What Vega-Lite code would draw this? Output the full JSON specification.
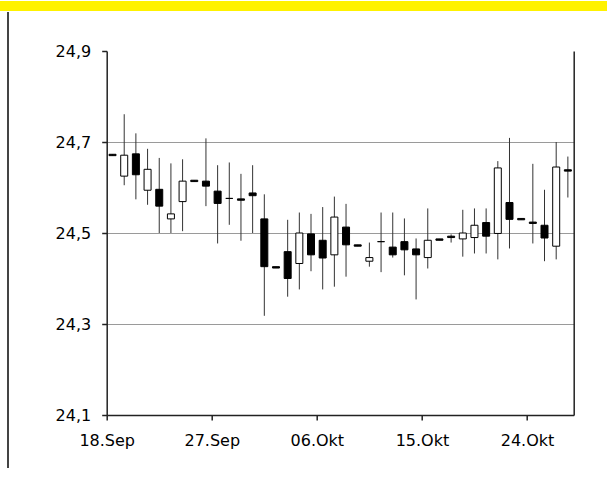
{
  "$schema": "https://vega.github.io/schema/vega-lite/v6.json",
  "padding": 0,
  "background": "white",
  "bounds": "flush",
  "spacing": 1,
  "config": {"view": {"stroke": null}, "font": "DejaVu Sans"},
  "datasets": {
    "ohlc": [
      {"date": "2000-09-18T12:00:00", "open": 24.673, "close": 24.670, "high": 24.673, "low": 24.670},
      {"date": "2000-09-19T12:00:00", "open": 24.625, "close": 24.671, "high": 24.761, "low": 24.605},
      {"date": "2000-09-20T12:00:00", "open": 24.674, "close": 24.628, "high": 24.719, "low": 24.574},
      {"date": "2000-09-21T12:00:00", "open": 24.594, "close": 24.640, "high": 24.685, "low": 24.562},
      {"date": "2000-09-22T12:00:00", "open": 24.596, "close": 24.559, "high": 24.665, "low": 24.500},
      {"date": "2000-09-23T12:00:00", "open": 24.531, "close": 24.542, "high": 24.653, "low": 24.500},
      {"date": "2000-09-24T12:00:00", "open": 24.569, "close": 24.614, "high": 24.662, "low": 24.504},
      {"date": "2000-09-25T12:00:00", "open": 24.616, "close": 24.613, "high": 24.616, "low": 24.613},
      {"date": "2000-09-26T12:00:00", "open": 24.614, "close": 24.603, "high": 24.708, "low": 24.559},
      {"date": "2000-09-27T12:00:00", "open": 24.592, "close": 24.565, "high": 24.649, "low": 24.477},
      {"date": "2000-09-28T12:00:00", "open": 24.576, "close": 24.576, "high": 24.655, "low": 24.518},
      {"date": "2000-09-29T12:00:00", "open": 24.575, "close": 24.572, "high": 24.630, "low": 24.483},
      {"date": "2000-09-30T12:00:00", "open": 24.588, "close": 24.582, "high": 24.649, "low": 24.500},
      {"date": "2000-10-01T12:00:00", "open": 24.531, "close": 24.426, "high": 24.585, "low": 24.318},
      {"date": "2000-10-02T12:00:00", "open": 24.426, "close": 24.423, "high": 24.426, "low": 24.423},
      {"date": "2000-10-03T12:00:00", "open": 24.459, "close": 24.400, "high": 24.529, "low": 24.360},
      {"date": "2000-10-04T12:00:00", "open": 24.433, "close": 24.500, "high": 24.545, "low": 24.376},
      {"date": "2000-10-05T12:00:00", "open": 24.498, "close": 24.452, "high": 24.542, "low": 24.416},
      {"date": "2000-10-06T12:00:00", "open": 24.484, "close": 24.445, "high": 24.557, "low": 24.376},
      {"date": "2000-10-07T12:00:00", "open": 24.452, "close": 24.535, "high": 24.580, "low": 24.382},
      {"date": "2000-10-08T12:00:00", "open": 24.513, "close": 24.474, "high": 24.564, "low": 24.404},
      {"date": "2000-10-09T12:00:00", "open": 24.474, "close": 24.471, "high": 24.474, "low": 24.471},
      {"date": "2000-10-10T12:00:00", "open": 24.438, "close": 24.446, "high": 24.479, "low": 24.426},
      {"date": "2000-10-11T12:00:00", "open": 24.481, "close": 24.481, "high": 24.545, "low": 24.414},
      {"date": "2000-10-12T12:00:00", "open": 24.469, "close": 24.452, "high": 24.545, "low": 24.446},
      {"date": "2000-10-13T12:00:00", "open": 24.481, "close": 24.463, "high": 24.532, "low": 24.407},
      {"date": "2000-10-14T12:00:00", "open": 24.465, "close": 24.452, "high": 24.488, "low": 24.354},
      {"date": "2000-10-15T12:00:00", "open": 24.446, "close": 24.484, "high": 24.554, "low": 24.422},
      {"date": "2000-10-16T12:00:00", "open": 24.487, "close": 24.484, "high": 24.487, "low": 24.484},
      {"date": "2000-10-17T12:00:00", "open": 24.493, "close": 24.490, "high": 24.497, "low": 24.479},
      {"date": "2000-10-18T12:00:00", "open": 24.487, "close": 24.500, "high": 24.551, "low": 24.448},
      {"date": "2000-10-19T12:00:00", "open": 24.490, "close": 24.517, "high": 24.554, "low": 24.455},
      {"date": "2000-10-20T12:00:00", "open": 24.523, "close": 24.493, "high": 24.554, "low": 24.455},
      {"date": "2000-10-21T12:00:00", "open": 24.499, "close": 24.643, "high": 24.658, "low": 24.442},
      {"date": "2000-10-22T12:00:00", "open": 24.567, "close": 24.530, "high": 24.709, "low": 24.466},
      {"date": "2000-10-23T12:00:00", "open": 24.532, "close": 24.529, "high": 24.532, "low": 24.529},
      {"date": "2000-10-24T12:00:00", "open": 24.524, "close": 24.521, "high": 24.652, "low": 24.477},
      {"date": "2000-10-25T12:00:00", "open": 24.517, "close": 24.489, "high": 24.595, "low": 24.438},
      {"date": "2000-10-26T12:00:00", "open": 24.471, "close": 24.645, "high": 24.700, "low": 24.442},
      {"date": "2000-10-27T12:00:00", "open": 24.639, "close": 24.636, "high": 24.668, "low": 24.578}
    ]
  },
  "vconcat": [
    {
      "width": 607,
      "height": 10,
      "view": {"fill": "#FFF200", "stroke": null},
      "data": {"values": [{"t": ""}]},
      "mark": {"type": "text"},
      "encoding": {"text": {"field": "t"}}
    },
    {
      "hconcat": [
        {
          "width": 8,
          "height": 456,
          "data": {"values": [{"p": 1}]},
          "mark": {"type": "rule", "color": "#444444", "strokeWidth": 2},
          "encoding": {
            "x": {"field": "p", "type": "quantitative", "scale": {"domain": [0, 1]}, "axis": null}
          }
        },
        {
          "vconcat": [
            {
              "width": 467,
              "height": 39,
              "data": {"values": [{"t": ""}]},
              "mark": {"type": "text"},
              "encoding": {"text": {"field": "t"}}
            },
            {
              "width": 467,
              "height": 364,
              "data": {"name": "ohlc"},
              "encoding": {
                "x": {
                  "field": "date",
                  "type": "temporal",
                  "scale": {
                    "domain": [{"year": 2000, "month": 9, "date": 18}, {"year": 2000, "month": 10, "date": 28}],
                    "nice": false,
                    "padding": 0
                  },
                  "axis": {
                    "values": [
                      {"year": 2000, "month": 9, "date": 18},
                      {"year": 2000, "month": 9, "date": 27},
                      {"year": 2000, "month": 10, "date": 6},
                      {"year": 2000, "month": 10, "date": 15},
                      {"year": 2000, "month": 10, "date": 24}
                    ],
                    "labelExpr": "replace(timeFormat(datum.value, '%d.%b'), 'Oct', 'Okt')",
                    "labelFlush": false,
                    "labelFontSize": 16,
                    "labelFont": "DejaVu Sans",
                    "labelColor": "#000000",
                    "labelPadding": 12,
                    "tickSize": 5,
                    "tickWidth": 1.5,
                    "tickColor": "#222222",
                    "domainColor": "#222222",
                    "domainWidth": 1.5,
                    "grid": false,
                    "title": null
                  }
                }
              },
              "layer": [
                {
                  "mark": {"type": "rule", "color": "#333333", "strokeWidth": 1},
                  "encoding": {
                    "y": {
                      "field": "low",
                      "type": "quantitative",
                      "scale": {"domain": [24.1, 24.9], "nice": false, "zero": false},
                      "axis": {
                        "orient": "left",
                        "values": [24.1, 24.3, 24.5, 24.7, 24.9],
                        "labelExpr": "replace(format(datum.value, '.1f'), '.', ',')",
                        "labelFontSize": 16,
                        "labelFont": "DejaVu Sans",
                        "labelColor": "#000000",
                        "labelPadding": 11,
                        "tickSize": 5,
                        "tickWidth": 1.5,
                        "tickColor": "#222222",
                        "domainColor": "#222222",
                        "domainWidth": 1.5,
                        "grid": true,
                        "gridColor": {"condition": {"test": "datum.value > 24.85", "value": "transparent"}, "value": "#9a9a9a"},
                        "gridWidth": 1,
                        "title": null
                      }
                    },
                    "y2": {"field": "high"}
                  }
                },
                {
                  "mark": {"type": "bar", "size": 7, "stroke": "#000000", "strokeWidth": 1},
                  "encoding": {
                    "y": {
                      "field": "open",
                      "type": "quantitative",
                      "axis": {
                        "orient": "right",
                        "labels": false,
                        "ticks": false,
                        "grid": false,
                        "domain": true,
                        "domainColor": "#222222",
                        "domainWidth": 1.5,
                        "title": null
                      }
                    },
                    "y2": {"field": "close"},
                    "fill": {"condition": {"test": "datum.close > datum.open", "value": "#ffffff"}, "value": "#000000"}
                  }
                }
              ],
              "resolve": {"axis": {"y": "independent"}}
            }
          ],
          "spacing": 0,
          "bounds": "flush"
        }
      ],
      "spacing": 98.7,
      "bounds": "flush"
    }
  ]
}
